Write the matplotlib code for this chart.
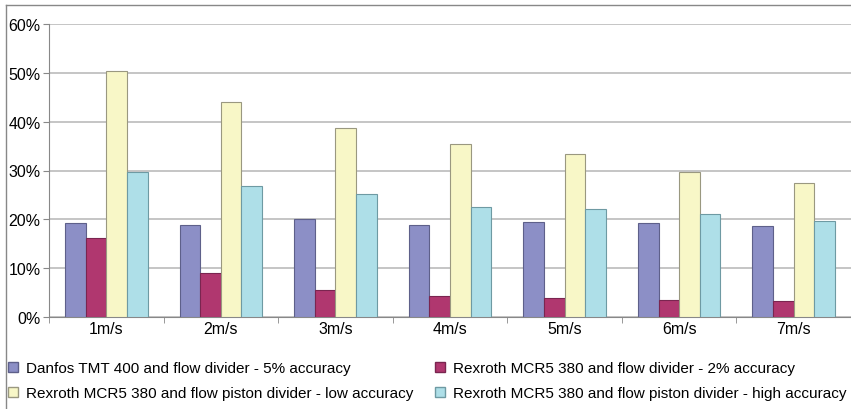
import numpy as np
import matplotlib
matplotlib.use("Agg")
import matplotlib.pyplot as plt
from matplotlib.lines import Line2D
from matplotlib.patches import Patch

plt.rcParams['font.family'] = ['Liberation Sans', 'DejaVu Sans']

categories = ["1m/s", "2m/s", "3m/s", "4m/s", "5m/s", "6m/s", "7m/s"]
danfos = [19.2, 18.8, 20.0, 18.8, 19.5, 19.2, 18.6]
rexroth_2 = [16.1, 9.1, 5.5, 4.3, 3.8, 3.4, 3.3]
piston_low = [50.4, 44.0, 38.7, 35.4, 33.3, 29.6, 27.5]
piston_high = [29.7, 26.8, 25.1, 22.5, 22.2, 21.0, 19.7]

labels = ["Danfos TMT 400 and flow divider - 5% accuracy",
          "Rexroth MCR5 380 and flow divider - 2% accuracy",
          "Rexroth MCR5 380 and flow piston divider - low accuracy",
          "Rexroth MCR5 380 and flow piston divider - high accuracy"]
colors = ["#8C8FC6", "#B0376F", "#F8F7C7", "#AEDFE8"]
edges = ["#5E608A", "#7A2550", "#9A9880", "#6E9AA3"]

fig = plt.figure(figsize=(8.51, 4.10), dpi=100)
ax = fig.add_axes([49/851, 1-318/410, 802/851, 293/410])

x = np.arange(len(categories))
w = 0.18
series = [danfos, rexroth_2, piston_low, piston_high]
for i, s in enumerate(series):
    ax.bar(x + (i - 1.5) * w, s, w, color=colors[i], edgecolor=edges[i],
           linewidth=0.8, zorder=3)

ax.set_xlim(-0.5, len(categories) - 0.5)
ax.set_ylim(0, 60)
ax.set_yticks(range(0, 61, 10))
ax.set_yticklabels([f"{v}%" for v in range(0, 61, 10)], fontsize=11.5)
ax.yaxis.grid(True, color="#BBBBBB", linewidth=1.2, zorder=0)
ax.set_xticks(x)
ax.set_xticklabels(categories, fontsize=11.5)
ax.tick_params(axis='x', length=0, pad=3)
ax.set_xticks(np.arange(-0.5, len(categories), 1), minor=True)
ax.tick_params(axis='x', which='minor', length=4, color="#888888", direction='out')
ax.tick_params(axis='y', length=4, color="#888888", pad=2)
for sp in ["top", "right"]:
    ax.spines[sp].set_visible(False)
for sp in ["left", "bottom"]:
    ax.spines[sp].set_color("#888888")

handles = [Patch(facecolor=colors[i], edgecolor=edges[i], label=labels[i])
           for i in range(4)]
# legend reads row by row, matplotlib fills column by column
order = [0, 2, 1, 3]
fig.legend(handles=[handles[i] for i in order], ncol=2, loc="upper left",
           bbox_to_anchor=(8/851, 1-362/410), frameon=False, fontsize=11,
           borderpad=0, borderaxespad=0,
           handlelength=0.65, handleheight=0.65, handletextpad=0.55,
           columnspacing=1.4, labelspacing=0.75)

fig.add_artist(Line2D([6/851, 6/851], [0, 1-6/410], color="#888888", lw=1))
fig.add_artist(Line2D([6/851, 1], [1-6/410, 1-6/410], color="#888888", lw=1))

fig.savefig("out.png", dpi=100)
